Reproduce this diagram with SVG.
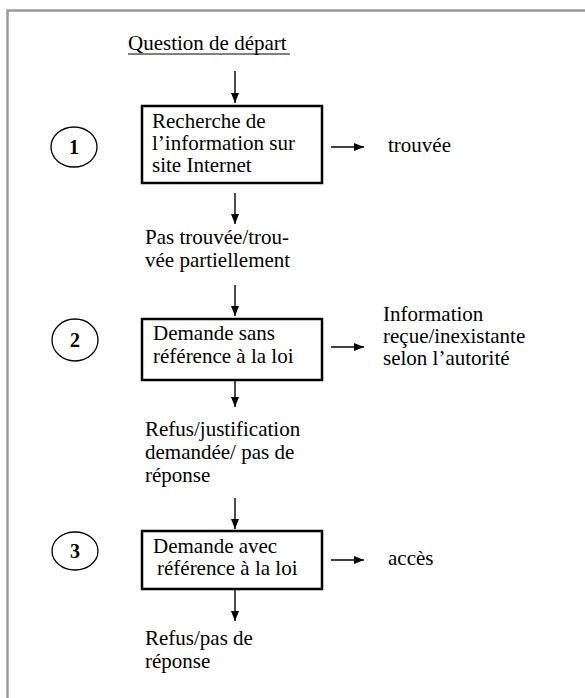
<svg xmlns="http://www.w3.org/2000/svg" width="585" height="698" viewBox="0 0 585 698">
<style>
.t{font-family:"Liberation Serif","Times New Roman",serif;font-size:21px;fill:#000}
.n{font-family:"Liberation Serif","Times New Roman",serif;font-size:20px;font-weight:bold;fill:#000;text-anchor:middle}
.box{fill:#fff;stroke:#000;stroke-width:2.5}
.circ{fill:none;stroke:#000;stroke-width:1.3}
.ln{stroke:#000;stroke-width:1.4;fill:none}
</style>
<defs>
<marker id="ah" markerUnits="userSpaceOnUse" markerWidth="10" markerHeight="10" viewBox="0 0 10 10" refX="10" refY="5" orient="auto">
<path d="M0,1 L10,5 L0,9 Z" fill="#000"/>
</marker>
</defs>
<rect width="585" height="698" fill="#fff"/>
<path d="M7.5,698 V10.5 H585" fill="none" stroke="#999" stroke-width="2.5"/>

<g id="start">
<text class="t" x="128" y="50">Question de départ</text>
<line x1="128" y1="54" x2="290" y2="54" stroke="#000" stroke-width="1"/>
</g>

<g id="step1">
<ellipse class="circ" cx="74" cy="147" rx="23" ry="20"/>
<text class="n" x="74" y="154">1</text>
</g>
<g id="box1">
<rect class="box" x="142" y="106" width="180" height="77"/>
<text class="t" x="152" y="128">Recherche de</text>
<text class="t" x="152" y="150">l’information sur</text>
<text class="t" x="152" y="172">site Internet</text>
</g>
<g id="found"><text class="t" x="388" y="152">trouvée</text></g>
<g id="notfound">
<text class="t" x="145" y="244">Pas trouvée/trou-</text>
<text class="t" x="145" y="267">vée partiellement</text>
</g>

<g id="step2">
<ellipse class="circ" cx="75" cy="340" rx="23" ry="21"/>
<text class="n" x="75" y="347">2</text>
</g>
<g id="box2">
<rect class="box" x="142" y="319" width="180" height="61"/>
<text class="t" x="153" y="340">Demande sans</text>
<text class="t" x="153" y="363">référence à la loi</text>
</g>
<g id="received">
<text class="t" x="383" y="321">Information</text>
<text class="t" x="383" y="343">reçue/inexistante</text>
<text class="t" x="383" y="365">selon l’autorité</text>
</g>
<g id="refused1">
<text class="t" x="145" y="436">Refus/justification</text>
<text class="t" x="145" y="459">demandée/ pas de</text>
<text class="t" x="145" y="482">réponse</text>
</g>

<g id="step3">
<ellipse class="circ" cx="75" cy="551" rx="23" ry="19"/>
<text class="n" x="75" y="558">3</text>
</g>
<g id="box3">
<rect class="box" x="142" y="531" width="180" height="58"/>
<text class="t" x="153" y="553">Demande avec</text>
<text class="t" x="157" y="575">référence à la loi</text>
</g>
<g id="access"><text class="t" x="388" y="565">accès</text></g>
<g id="refused2">
<text class="t" x="145" y="645">Refus/pas de</text>
<text class="t" x="145" y="668">réponse</text>
</g>

<g id="connectors">
<line class="ln" x1="235" y1="71" x2="235" y2="103" marker-end="url(#ah)"/>
<line class="ln" x1="235" y1="193" x2="235" y2="224" marker-end="url(#ah)"/>
<line class="ln" x1="235" y1="285" x2="235" y2="316" marker-end="url(#ah)"/>
<line class="ln" x1="235" y1="381" x2="235" y2="407" marker-end="url(#ah)"/>
<line class="ln" x1="235" y1="498" x2="235" y2="529" marker-end="url(#ah)"/>
<line class="ln" x1="235" y1="590" x2="235" y2="621" marker-end="url(#ah)"/>
<line class="ln" x1="331" y1="147" x2="364" y2="147" marker-end="url(#ah)"/>
<line class="ln" x1="331" y1="347" x2="364" y2="347" marker-end="url(#ah)"/>
<line class="ln" x1="331" y1="560" x2="364" y2="560" marker-end="url(#ah)"/>
</g>
</svg>
